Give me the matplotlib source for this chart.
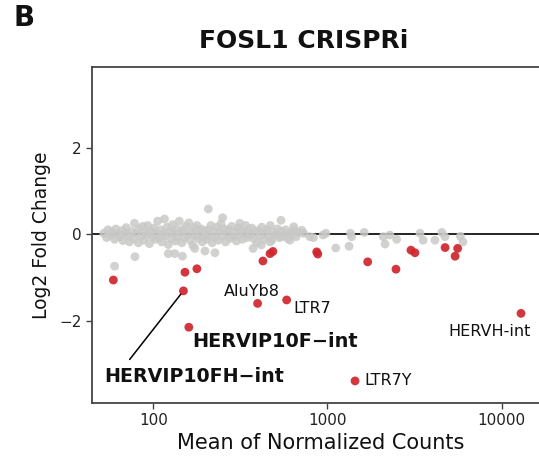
import matplotlib
matplotlib.use("Agg")
import matplotlib.pyplot as plt
import numpy as np

plt.rcParams['font.family'] = ['DejaVu Sans']

# ---- data: non-significant repeats (grey) ----
grey_mean = [52, 54, 55, 57, 58, 60, 61, 63, 64, 66, 67, 69, 70, 72, 73,
             75, 77, 78, 80, 82, 83, 85, 87, 88, 90, 92, 93, 95, 97, 99, 101, 103, 104, 106, 108,
             110, 112, 114, 116, 118, 120, 122, 125, 127, 129, 131, 134, 136, 138, 141, 143, 146, 148,
             151, 154, 157, 160, 163, 166, 169, 172, 175, 178, 181, 184, 188, 191, 195, 198,
             207, 250, 314, 541, 640,
             202, 206, 210, 214, 218, 222, 226, 231, 236, 240, 245, 250, 255, 260, 265, 270, 276, 282,
             288, 294, 300, 306, 312, 318, 325, 332, 339, 346, 353, 360,
             368, 376, 384, 392, 400, 410, 420, 430, 440, 450, 460, 470, 480, 492, 505, 518, 530, 545,
             560, 575, 590, 605, 620, 640, 660, 680,
             60, 78.5, 122, 133, 147, 173, 198, 226, 374, 417, 468, 541, 609, 793,
             712, 730, 830, 944, 979, 1115, 1330, 1355, 1375, 1626, 2090, 2280, 2495, 2140,
             3396, 3540, 4140, 4530, 4720, 5790, 5990]
grey_lfc = [0.02, -0.08, 0.10, -0.03, 0.05, -0.12, 0.12, 0.0, -0.06, 0.08, -0.15, 0.03, 0.15, -0.04, -0.18,
            0.06, -0.10, 0.25, 0.02, -0.20, 0.12, -0.05, 0.18, -0.14, 0.04, -0.02, 0.20, -0.22, 0.08, -0.06, 0.14, -0.12, 0.03, 0.30, -0.08,
            0.10, -0.18, 0.0, 0.35, -0.04, 0.16, -0.24, 0.06, -0.10, 0.22, 0.02, -0.16, 0.12, -0.06, 0.30, 0.04, -0.20, 0.10,
            -0.08, 0.18, -0.02, 0.26, -0.14, 0.06, -0.26, 0.14, -0.04, 0.20, -0.10, 0.0, 0.12, -0.18, 0.08, -0.06,
            0.58, 0.38, 0.25, 0.32, 0.17,
            -0.12, 0.10, -0.02, 0.20, -0.20, 0.04, -0.08, 0.16, -0.14, 0.06, 0.24, -0.04, 0.12, -0.18, 0.0, 0.10, -0.10, 0.18,
            -0.06, 0.04, -0.16, 0.14, -0.02, 0.08, -0.12, 0.02, 0.20, -0.08, 0.10, -0.02,
            0.14, -0.10, 0.04, -0.20, 0.08, -0.04, 0.16, -0.12, 0.02, 0.10, -0.06, 0.20, -0.14, 0.04, -0.02, 0.12, -0.08, 0.06,
            -0.04, 0.10, -0.10, 0.02, -0.02, 0.08, -0.06, 0.04,
            -0.74, -0.52, -0.45, -0.45, -0.51, -0.33, -0.39, -0.43, -0.33, -0.25, -0.18, -0.06, -0.14, -0.06,
            0.09, 0.02, -0.08, -0.02, 0.02, -0.32, -0.28, 0.02, -0.06, 0.04, -0.06, -0.02, -0.12, -0.23,
            0.02, -0.14, -0.14, 0.04, -0.06, -0.05, -0.18]

# ---- data: significantly changed repeats (red) ----
red_mean = [59, 152, 178, 149, 160, 397, 583, 1439, 12900,
            426, 468, 486, 867, 880, 1701, 2472, 3013, 3177, 4732, 5585, 5400]
red_lfc = [-1.06, -0.88, -0.80, -1.31, -2.15, -1.60, -1.52, -3.39, -1.83,
           -0.62, -0.45, -0.40, -0.41, -0.46, -0.64, -0.81, -0.37, -0.43, -0.31, -0.33, -0.51]

# labels: (name, index into red arrays)
label_names = ["AluYb8", "LTR7", "LTR7Y", "HERVH-int", "HERVIP10F\u2212int", "HERVIP10FH\u2212int"]
label_idx = [5, 6, 7, 8, 4, 3]

title = "FOSL1 CRISPRi"
xticks = [100, 1000, 10000]
xticklabels = ["100", "1000", "10000"]
yticks = [-2, 0, 2]

W, H = 539, 466
fig = plt.figure(figsize=(W / 100, H / 100), dpi=100)
ax_left, ax_right, ax_top, ax_bottom = 92, 550, 67, 403
ax = fig.add_axes([ax_left / W, 1 - ax_bottom / H, (ax_right - ax_left) / W, (ax_bottom - ax_top) / H])
ax.set_xscale('log')
ax.set_xlim(44.5, 18930)
ax.set_ylim(-3.9, 3.86)

ax.axhline(0, color='black', lw=1.2, zorder=1)
ax.scatter(grey_mean, grey_lfc, s=40, color='#c9c9c7', alpha=0.85, edgecolors='none', zorder=2)
ax.scatter(red_mean, red_lfc, s=40, color='#cf262c', alpha=0.92, edgecolors='none', zorder=3)

# label placement offsets (points) and style
offsets = {
    "AluYb8": ((-4.3, 8.8), 'center', 'center', 'normal', 11.5),
    "LTR7": ((4.5, -6.5), 'left', 'center', 'normal', 11.5),
    "LTR7Y": ((7.0, 0.0), 'left', 'center', 'normal', 11.5),
    "HERVH-int": ((-22.3, -13.0), 'center', 'center', 'normal', 11.5),
    "HERVIP10F\u2212int": ((2.2, -10.6), 'left', 'center', 'bold', 13.9),
}
for name, i in zip(label_names, label_idx):
    if name in offsets:
        (dx, dy), ha, va, fw, fs = offsets[name]
        ax.annotate(name, xy=(red_mean[i], red_lfc[i]), xytext=(dx, dy), textcoords='offset points',
                    ha=ha, va=va, fontsize=fs, fontweight=fw, color='#111111', zorder=4)
    else:
        ax.annotate(name, xy=(red_mean[i], red_lfc[i]), xytext=(7.7, -61.4), textcoords='offset points',
                    ha='center', va='center', fontsize=13.7, fontweight='bold', color='#111111', zorder=4,
                    arrowprops=dict(arrowstyle='-', color='black', lw=1.1, shrinkA=4, shrinkB=3,
                                    relpos=(0.11, 1.0)))

ax.set_xticks(xticks)
ax.set_xticklabels(xticklabels)
ax.xaxis.set_minor_locator(matplotlib.ticker.NullLocator())
ax.set_yticks(yticks)
ax.set_yticklabels(["\u22122", "0", "2"])
ax.tick_params(axis='both', length=4.5, width=1.0, color='#444444', labelsize=11, labelcolor='#222222', pad=3)

for sp in ['left', 'top', 'bottom']:
    ax.spines[sp].set_color('#444444')
    ax.spines[sp].set_linewidth(1.3)
ax.spines['right'].set_visible(False)

ax.set_xlabel("Mean of Normalized Counts", fontsize=15, color='#111111', labelpad=3)
ax.set_ylabel("Log2 Fold Change", fontsize=13.5, color='#111111', labelpad=6)

fig.text(304 / W, 1 - 41 / H, title, ha='center', va='center', fontsize=18, fontweight='bold', color='#111111')
fig.text(24 / W, 1 - 18 / H, "B", ha='center', va='center', fontsize=20, fontweight='bold', color='#111111')

fig.savefig("out.png", dpi=100)
